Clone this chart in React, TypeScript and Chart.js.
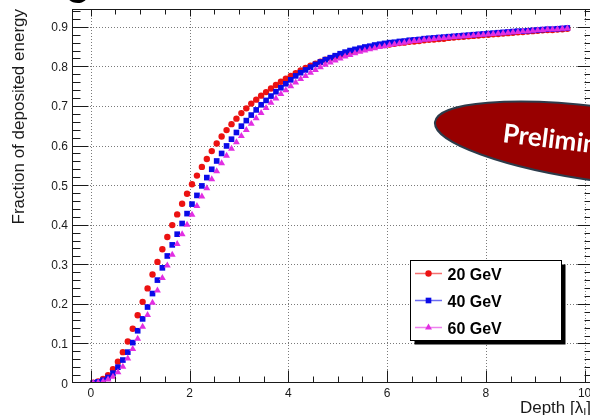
import { useEffect, useRef } from 'react';
import { Chart, registerables } from 'chart.js';

Chart.register(...registerables);

// Depth in interaction lengths (bin centres)
const DEPTH = [
  0.05, 0.15, 0.25, 0.35, 0.45, 0.55, 0.65, 0.75, 0.85, 0.95,
  1.05, 1.15, 1.25, 1.35, 1.45, 1.55, 1.65, 1.75, 1.85, 1.95,
  2.05, 2.15, 2.25, 2.35, 2.45, 2.55, 2.65, 2.75, 2.85, 2.95,
  3.05, 3.15, 3.25, 3.35, 3.45, 3.55, 3.65, 3.75, 3.85, 3.95,
  4.05, 4.15, 4.25, 4.35, 4.45, 4.55, 4.65, 4.75, 4.85, 4.95,
  5.05, 5.15, 5.25, 5.35, 5.45, 5.55, 5.65, 5.75, 5.85, 5.95,
  6.05, 6.15, 6.25, 6.35, 6.45, 6.55, 6.65, 6.75, 6.85, 6.95,
  7.05, 7.15, 7.25, 7.35, 7.45, 7.55, 7.65, 7.75, 7.85, 7.95,
  8.05, 8.15, 8.25, 8.35, 8.45, 8.55, 8.65, 8.75, 8.85, 8.95,
  9.05, 9.15, 9.25, 9.35, 9.45, 9.55, 9.65,
];

// Cumulative fraction of deposited energy
const E20 = [
  0.001, 0.004, 0.010, 0.020, 0.035, 0.054, 0.078, 0.105, 0.137, 0.171,
  0.205, 0.239, 0.274, 0.306, 0.338, 0.369, 0.399, 0.426, 0.453, 0.478,
  0.502, 0.524, 0.546, 0.566, 0.586, 0.605, 0.623, 0.639, 0.654, 0.668,
  0.682, 0.694, 0.706, 0.716, 0.726, 0.735, 0.744, 0.753, 0.761, 0.769,
  0.776, 0.783, 0.790, 0.796, 0.802, 0.807, 0.812, 0.817, 0.821, 0.825,
  0.829, 0.833, 0.836, 0.839, 0.842, 0.845, 0.847, 0.850, 0.852, 0.854,
  0.855, 0.857, 0.859, 0.860, 0.862, 0.863, 0.864, 0.866, 0.867, 0.868,
  0.869, 0.870, 0.872, 0.873, 0.874, 0.875, 0.876, 0.877, 0.878, 0.879,
  0.880, 0.881, 0.882, 0.883, 0.884, 0.885, 0.886, 0.887, 0.888, 0.889,
  0.890, 0.891, 0.892, 0.892, 0.893, 0.894, 0.895,
];

const E40 = [
  0.000, 0.003, 0.007, 0.014, 0.025, 0.040, 0.058, 0.078, 0.102, 0.132,
  0.162, 0.192, 0.226, 0.260, 0.291, 0.321, 0.349, 0.376, 0.403, 0.428,
  0.452, 0.474, 0.498, 0.519, 0.540, 0.561, 0.580, 0.599, 0.616, 0.633,
  0.649, 0.663, 0.677, 0.690, 0.703, 0.714, 0.725, 0.736, 0.746, 0.756,
  0.766, 0.776, 0.784, 0.791, 0.798, 0.805, 0.811, 0.817, 0.822, 0.827,
  0.832, 0.836, 0.840, 0.843, 0.846, 0.849, 0.851, 0.854, 0.856, 0.858,
  0.860, 0.861, 0.863, 0.864, 0.866, 0.867, 0.868, 0.870, 0.871, 0.872,
  0.873, 0.874, 0.875, 0.876, 0.877, 0.878, 0.879, 0.880, 0.881, 0.882,
  0.883, 0.884, 0.885, 0.886, 0.887, 0.888, 0.889, 0.889, 0.890, 0.891,
  0.892, 0.893, 0.894, 0.894, 0.895, 0.896, 0.897,
];

const E60 = [
  0.000, 0.001, 0.004, 0.009, 0.016, 0.027, 0.041, 0.062, 0.086, 0.112,
  0.142, 0.172, 0.203, 0.234, 0.265, 0.297, 0.324, 0.351, 0.376, 0.400,
  0.425, 0.447, 0.471, 0.492, 0.515, 0.535, 0.555, 0.574, 0.592, 0.608,
  0.624, 0.639, 0.655, 0.669, 0.682, 0.695, 0.708, 0.719, 0.730, 0.740,
  0.750, 0.759, 0.768, 0.776, 0.784, 0.791, 0.798, 0.804, 0.810, 0.815,
  0.820, 0.825, 0.829, 0.833, 0.837, 0.840, 0.843, 0.846, 0.849, 0.851,
  0.854, 0.856, 0.858, 0.860, 0.862, 0.864, 0.865, 0.867, 0.868, 0.869,
  0.871, 0.872, 0.873, 0.874, 0.875, 0.876, 0.877, 0.878, 0.879, 0.880,
  0.881, 0.882, 0.883, 0.884, 0.885, 0.886, 0.887, 0.888, 0.889, 0.890,
  0.891, 0.892, 0.893, 0.893, 0.894, 0.895, 0.896,
];

const SERIES_LABELS = ['20 GeV', '40 GeV', '60 GeV'];
const SERIES_COLORS = ['#ec1212', '#0a0ae8', '#e22ee2'];

const X_TICKS = [0, 2, 4, 6, 8, 10];
const X_TICK_LABELS = ['0', '2', '4', '6', '8', '10'];
const Y_TICKS = [0, 0.1, 0.2, 0.3, 0.4, 0.5, 0.6, 0.7, 0.8, 0.9];
const Y_TICK_LABELS = ['0', '0.1', '0.2', '0.3', '0.4', '0.5', '0.6', '0.7', '0.8', '0.9'];

const Y_TITLE = 'Fraction of deposited energy';
const X_TITLE_MAIN = 'Depth [λ';
const X_TITLE_SUB = 'I';
const X_TITLE_END = ']';
const STAMP_TEXT = 'Preliminary';
const HEADING_FRAGMENT = 'G';

const SANS = '"Liberation Sans", Arial, Helvetica, sans-serif';

function drawMarker(ctx: CanvasRenderingContext2D, style: string, x: number, y: number, r: number) {
  ctx.beginPath();
  if (style === 'circle') {
    ctx.arc(x, y, r, 0, Math.PI * 2);
  } else if (style === 'rect') {
    const s = r * Math.SQRT1_2;
    ctx.rect(x - s, y - s, 2 * s, 2 * s);
  } else {
    const h = Math.cos(Math.PI / 6) * r;
    ctx.moveTo(x, y - r);
    ctx.lineTo(x + h, y + r / 2);
    ctx.lineTo(x - h, y + r / 2);
    ctx.closePath();
  }
  ctx.fill();
}

function minorValues(majors: number[], parts: number, lo: number, hi: number) {
  const out: number[] = [];
  const step = (majors[1] - majors[0]) / parts;
  const first = majors[0];
  const last = majors[majors.length - 1];
  for (let v = first - step; v >= lo; v -= step) out.push(v);
  for (let i = 0; i < majors.length - 1; i++) {
    for (let k = 1; k < parts; k++) out.push(majors[i] + k * step);
  }
  for (let v = last + step; v <= hi + 1e-9; v += step) out.push(v);
  return out;
}

const framePlugin = {
  id: 'rootFrame',
  beforeDatasetsDraw(chart: any) {
    const { ctx, chartArea, scales } = chart;
    const { left, right, top, bottom } = chartArea;
    const xs = scales.x;
    const ys = scales.y;
    ctx.save();
    ctx.strokeStyle = '#7a7a7a';
    ctx.lineWidth = 1;
    ctx.setLineDash([1, 2]);
    X_TICKS.forEach((v) => {
      const px = Math.round(xs.getPixelForValue(v)) + 0.5;
      if (px <= left + 1 || px >= right - 1) return;
      ctx.beginPath();
      ctx.moveTo(px, top);
      ctx.lineTo(px, bottom);
      ctx.stroke();
    });
    Y_TICKS.forEach((v) => {
      const py = Math.round(ys.getPixelForValue(v)) + 0.5;
      if (py <= top + 1 || py >= bottom - 1) return;
      ctx.beginPath();
      ctx.moveTo(left, py);
      ctx.lineTo(right, py);
      ctx.stroke();
    });
    ctx.restore();
  },
  afterDatasetsDraw(chart: any) {
    const { ctx, chartArea, scales } = chart;
    const { left, right, top, bottom } = chartArea;
    const xs = scales.x;
    const ys = scales.y;
    const L = Math.round(left) + 0.5;
    const R = Math.round(right) - 0.5;
    const T = Math.round(top) + 0.5;
    const B = Math.round(bottom) - 0.5;

    ctx.save();
    // frame
    ctx.strokeStyle = '#1a1a1a';
    ctx.lineWidth = 1;
    ctx.strokeRect(L, T, R - L, B - T);

    // x ticks (bottom and top)
    const xMinor = minorValues(X_TICKS, 4, xs.min, xs.max);
    const tickX = (v: number, lenB: number, lenT: number) => {
      const px = Math.round(xs.getPixelForValue(v)) + 0.5;
      if (px < left || px > right) return;
      ctx.beginPath();
      ctx.moveTo(px, B);
      ctx.lineTo(px, B - lenB);
      ctx.moveTo(px, T);
      ctx.lineTo(px, T + lenT);
      ctx.stroke();
    };
    X_TICKS.forEach((v) => tickX(v, 12, 7));
    xMinor.forEach((v) => tickX(v, 6, 5));

    // y ticks (left and right)
    const yMinor = minorValues(Y_TICKS, 5, ys.min, ys.max);
    const tickY = (v: number, lenL: number, lenR: number) => {
      const py = Math.round(ys.getPixelForValue(v)) + 0.5;
      if (py < top || py > bottom) return;
      ctx.beginPath();
      ctx.moveTo(L, py);
      ctx.lineTo(L + lenL, py);
      ctx.moveTo(R, py);
      ctx.lineTo(R - lenR, py);
      ctx.stroke();
    };
    Y_TICKS.forEach((v) => tickY(v, 16, 14));
    yMinor.forEach((v) => tickY(v, 8, 7));

    // tick labels
    ctx.fillStyle = '#1a1a1a';
    ctx.font = `12px ${SANS}`;
    ctx.textAlign = 'center';
    ctx.textBaseline = 'alphabetic';
    X_TICKS.forEach((v, i) => {
      ctx.fillText(X_TICK_LABELS[i], xs.getPixelForValue(v), bottom + 14);
    });
    ctx.textAlign = 'right';
    Y_TICKS.forEach((v, i) => {
      ctx.fillText(Y_TICK_LABELS[i], left - 4, ys.getPixelForValue(v) + 4.5);
    });

    // axis titles
    ctx.save();
    ctx.font = `17px ${SANS}`;
    ctx.translate(24, top);
    ctx.rotate(-Math.PI / 2);
    ctx.textAlign = 'right';
    ctx.fillText(Y_TITLE, 0, 0);
    ctx.restore();

    ctx.font = `17px ${SANS}`;
    ctx.textAlign = 'left';
    const endW = ctx.measureText(X_TITLE_END).width;
    const mainW = ctx.measureText(X_TITLE_MAIN).width;
    ctx.font = `11px ${SANS}`;
    const subW = ctx.measureText(X_TITLE_SUB).width;
    const xRight = 591;
    const baseY = 413;
    const x0 = xRight - endW - subW - mainW;
    ctx.font = `17px ${SANS}`;
    ctx.fillText(X_TITLE_MAIN, x0, baseY);
    ctx.font = `11px ${SANS}`;
    ctx.fillText(X_TITLE_SUB, x0 + mainW, baseY + 3);
    ctx.font = `17px ${SANS}`;
    ctx.fillText(X_TITLE_END, x0 + mainW + subW, baseY);

    // legend
    const bx = 410.5;
    const by = 260.5;
    const bw = 151;
    const bh = 80;
    ctx.fillStyle = '#000';
    ctx.fillRect(bx + 4, by + 4, bw, bh);
    ctx.fillStyle = '#fff';
    ctx.fillRect(bx, by, bw, bh);
    ctx.strokeStyle = '#000';
    ctx.lineWidth = 1;
    ctx.strokeRect(bx, by, bw, bh);
    const styles = ['circle', 'rect', 'triangle'];
    const radii = [3.2, 4, 4];
    SERIES_LABELS.forEach((label, i) => {
      const ry = 273.5 + i * 27;
      ctx.save();
      ctx.globalAlpha = 0.6;
      ctx.strokeStyle = SERIES_COLORS[i];
      ctx.lineWidth = 1.5;
      ctx.beginPath();
      ctx.moveTo(415, ry);
      ctx.lineTo(442, ry);
      ctx.stroke();
      ctx.restore();
      ctx.fillStyle = SERIES_COLORS[i];
      drawMarker(ctx, styles[i], 428.5, ry, radii[i]);
      ctx.fillStyle = '#000';
      ctx.font = `bold 16px ${SANS}`;
      ctx.textAlign = 'left';
      ctx.fillText(label, 447.5, ry + 6);
    });

    // heading fragment above the frame
    ctx.fillStyle = '#000';
    ctx.font = `bold 30px Lato, ${SANS}`;
    ctx.fillText(HEADING_FRAGMENT, 65, 3);

    // stamp
    ctx.save();
    ctx.translate(603.5, 144.5);
    ctx.rotate((7.6 * Math.PI) / 180);
    ctx.beginPath();
    ctx.ellipse(0, 0, 170, 37, 0, 0, Math.PI * 2);
    ctx.fillStyle = '#980000';
    ctx.fill();
    ctx.strokeStyle = '#2d3b4a';
    ctx.lineWidth = 2;
    ctx.stroke();
    ctx.restore();

    ctx.save();
    ctx.translate(502, 142);
    ctx.rotate((7 * Math.PI) / 180);
    ctx.fillStyle = '#ffffff';
    ctx.font = `bold 26px Lato, "Open Sans", ${SANS}`;
    ctx.textAlign = 'left';
    ctx.fillText(STAMP_TEXT, 0, 0);
    ctx.restore();

    ctx.restore();
  },
};

export default function App() {
  const canvasRef = useRef<HTMLCanvasElement | null>(null);

  useEffect(() => {
    const canvas = canvasRef.current;
    if (!canvas) return;
    const pts = (vals: number[]) => DEPTH.map((x, i) => ({ x, y: vals[i] }));
    const chart = new Chart(canvas, {
      type: 'scatter',
      data: {
        datasets: [
          {
            label: SERIES_LABELS[2],
            data: pts(E60),
            pointStyle: 'triangle',
            pointRadius: 4,
            backgroundColor: SERIES_COLORS[2],
            borderWidth: 0,
            order: 0,
          },
          {
            label: SERIES_LABELS[1],
            data: pts(E40),
            pointStyle: 'rect',
            pointRadius: 4,
            backgroundColor: SERIES_COLORS[1],
            borderWidth: 0,
            order: 1,
          },
          {
            label: SERIES_LABELS[0],
            data: pts(E20),
            pointStyle: 'circle',
            pointRadius: 3.2,
            backgroundColor: SERIES_COLORS[0],
            borderWidth: 0,
            order: 2,
          },
        ],
      },
      options: {
        animation: false,
        responsive: false,
        maintainAspectRatio: false,
        devicePixelRatio: 1,
        events: [],
        layout: { padding: { left: 72, top: 9, right: 8, bottom: 32 } },
        plugins: { legend: { display: false }, tooltip: { enabled: false } },
        scales: {
          x: {
            type: 'linear',
            display: false,
            min: -0.38,
            max: 10.15,
            ticks: { stepSize: 2, includeBounds: false },
          },
          y: {
            type: 'linear',
            display: false,
            min: 0,
            max: 0.945,
            ticks: { stepSize: 0.1, includeBounds: false },
          },
        },
      },
      plugins: [framePlugin],
    });
    return () => chart.destroy();
  }, []);

  return (
    <div
      style={{
        position: 'absolute',
        left: 0,
        top: 0,
        width: 590,
        height: 415,
        overflow: 'hidden',
        background: '#ffffff',
      }}
    >
      <canvas ref={canvasRef} width={600} height={415} style={{ display: 'block' }} />
    </div>
  );
}
